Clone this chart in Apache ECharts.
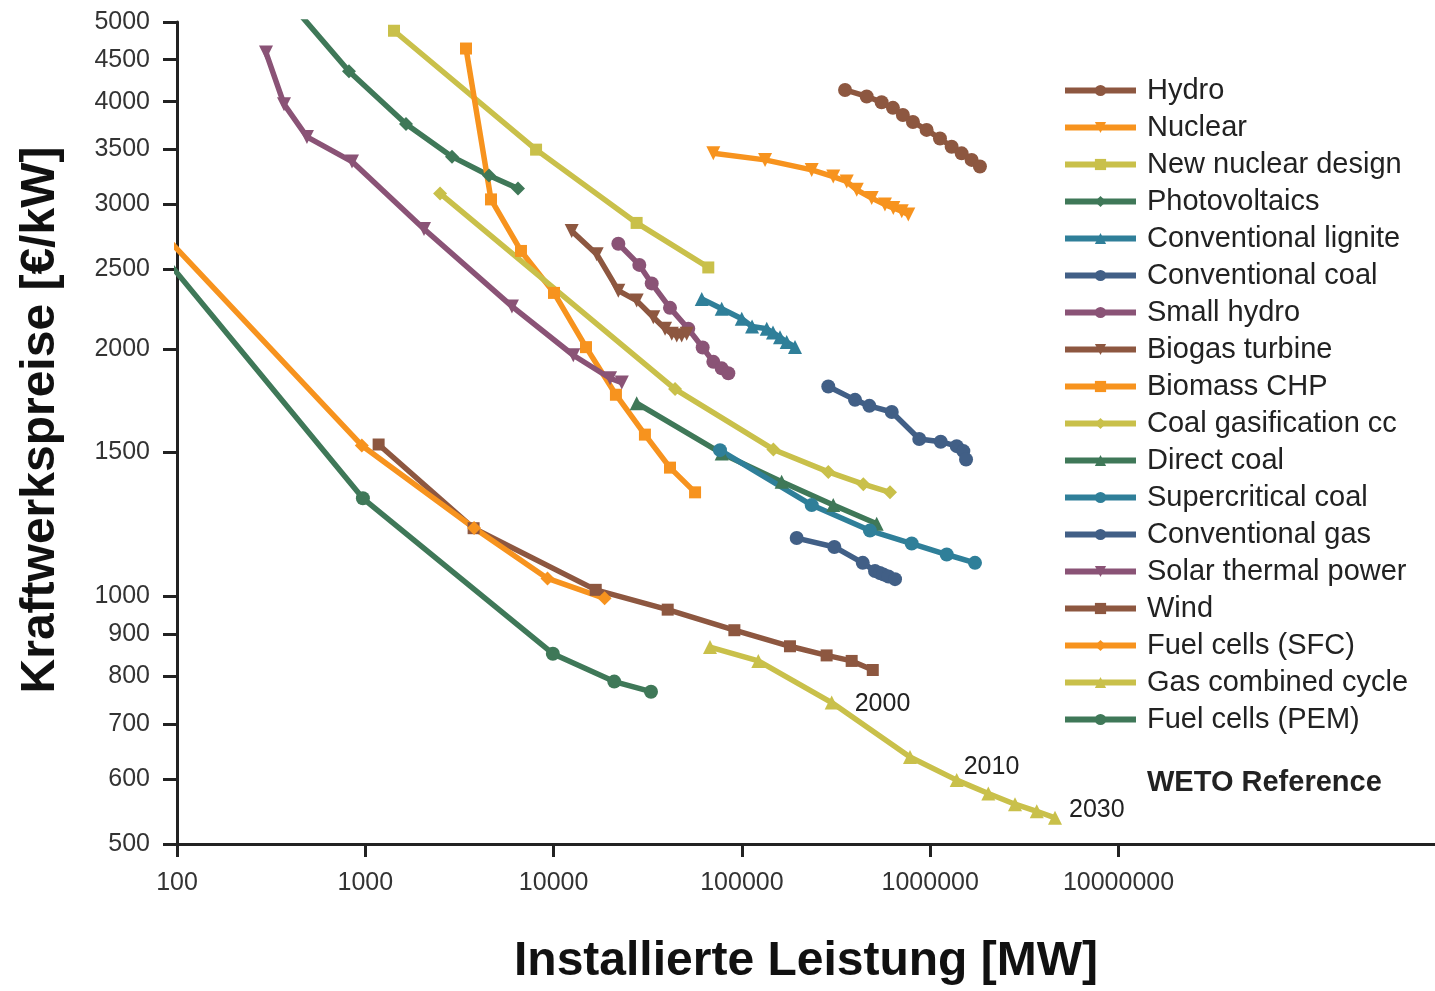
<!DOCTYPE html>
<html>
<head>
<meta charset="utf-8">
<title>Kraftwerkspreise</title>
<script src="https://cdn.jsdelivr.net/npm/echarts@6/dist/echarts.min.js"></script>
<style>
  html, body { margin: 0; padding: 0; background: #fff; }
  #chart { width: 1435px; height: 991px; }
</style>
</head>
<body>
<div id="chart"></div>
<script>
// [installierte Leistung MW, Preis €/kW]
const hydro = [[353000, 4133], [460000, 4059], [552000, 3994], [634000, 3931], [716000, 3853], [810000, 3779],
  [957000, 3696], [1127000, 3608], [1300000, 3526], [1469000, 3461], [1660000, 3398], [1837000, 3335]]
const nuclear = [[70500, 3461], [132700, 3398], [234800, 3304], [305700, 3243], [360300, 3198], [407400, 3125],
  [489000, 3053], [575000, 2998], [637000, 2970], [706000, 2943], [765000, 2916]]
const newNuclear = [[1420, 4879], [8070, 3497], [27600, 2848], [66300, 2514]]
const photovoltaics = [[421, 5200], [819, 4355], [1645, 3757], [2887, 3429], [4540, 3253], [6470, 3136]]
const lignite = [[61200, 2302], [78100, 2239], [99800, 2177], [113200, 2131], [135500, 2117], [146300, 2095],
  [159300, 2068], [172900, 2040], [191400, 2012]]
const convCoal = [[287600, 1801], [398900, 1735], [475400, 1706], [625000, 1677], [875000, 1555],
  [1137000, 1543], [1383000, 1524], [1500000, 1503], [1550000, 1468]]
const smallHydro = [[22070, 2687], [28520, 2532], [33190, 2404], [41500, 2245], [51900, 2117], [61900, 2009],
  [70500, 1930], [78100, 1895], [84700, 1869]]
const biogas = [[12480, 2784], [16940, 2609], [22070, 2356], [27620, 2291], [33860, 2187], [39080, 2117],
  [42400, 2088], [45070, 2078], [47900, 2078], [50900, 2088]]
const biomass = [[3427, 4642], [4650, 3042], [6710, 2633], [10050, 2341], [14860, 2011], [21430, 1760],
  [30550, 1574], [41500, 1435], [56400, 1339]]
const coalGasification = [[2494, 3093], [44150, 1788], [146900, 1510], [287600, 1418], [441500, 1370], [611800, 1339]]
const directCoal = [[27620, 1719], [78100, 1493], [162600, 1379], [305700, 1292], [519800, 1226]]
const supercritical = [[76500, 1507], [234800, 1292], [478600, 1203], [797500, 1160], [1224000, 1125], [1729000, 1099]]
const convGas = [[195400, 1178], [309700, 1149], [438300, 1099], [509300, 1074], [540000, 1068],
  [563700, 1064], [600000, 1058], [650500, 1050]]
const solarThermal = [[297, 4590], [370, 3972], [490, 3624], [850, 3382], [2050, 2800], [6010, 2254],
  [12730, 1966], [19950, 1843], [23020, 1821]]
const wind = [[1177, 1531], [3760, 1211], [16740, 1019], [40360, 964], [91200, 910], [180000, 870],
  [281800, 848], [382800, 835], [495500, 814]]
const fuelCellsSFC = [[80, 2796], [958, 1527], [3780, 1212], [9280, 1052], [18660, 995]]
const gasCombined = [[67700, 868], [122200, 835], [299800, 743], [781000, 638], [1383000, 598],
  [2036000, 576], [2820000, 559], [3680000, 548], [4600000, 538]]
const gasYears = ['', '', '2000', '', '2010', '', '', '', '2030']
const fuelCellsPEM = [[80, 2634], [971, 1317], [9910, 852], [21000, 788], [32900, 766]]

const xTicks = [100, 1000, 10000, 100000, 1000000, 10000000]
const yTicks = [500, 600, 700, 800, 900, 1000, 1500, 2000, 2500, 3000, 3500, 4000, 4500, 5000]

const FONT = 'Liberation Sans, Arial, sans-serif'
const BROWN = '#8d5740'
const ORANGE = '#f7931e'
const YELLOW = '#c9c04a'
const GREEN = '#3f7858'
const TEAL = '#2f7f99'
const BLUE = '#415f86'
const PURPLE = '#8a5376'

const seriesDefs = [
  { name: 'Hydro', data: hydro, color: BROWN, symbol: 'circle' },
  { name: 'Nuclear', data: nuclear, color: ORANGE, symbol: 'triangle', rotate: 180 },
  { name: 'New nuclear design', data: newNuclear, color: YELLOW, symbol: 'rect' },
  { name: 'Photovoltaics', data: photovoltaics, color: GREEN, symbol: 'diamond' },
  { name: 'Conventional lignite', data: lignite, color: TEAL, symbol: 'triangle' },
  { name: 'Conventional coal', data: convCoal, color: BLUE, symbol: 'circle' },
  { name: 'Small hydro', data: smallHydro, color: PURPLE, symbol: 'circle' },
  { name: 'Biogas turbine', data: biogas, color: BROWN, symbol: 'triangle', rotate: 180 },
  { name: 'Biomass CHP', data: biomass, color: ORANGE, symbol: 'rect' },
  { name: 'Coal gasification cc', data: coalGasification, color: YELLOW, symbol: 'diamond' },
  { name: 'Direct coal', data: directCoal, color: GREEN, symbol: 'triangle' },
  { name: 'Supercritical coal', data: supercritical, color: TEAL, symbol: 'circle' },
  { name: 'Conventional gas', data: convGas, color: BLUE, symbol: 'circle' },
  { name: 'Solar thermal power', data: solarThermal, color: PURPLE, symbol: 'triangle', rotate: 180 },
  { name: 'Wind', data: wind, color: BROWN, symbol: 'rect' },
  { name: 'Fuel cells (SFC)', data: fuelCellsSFC, color: ORANGE, symbol: 'diamond' },
  { name: 'Gas combined cycle', data: gasCombined, color: YELLOW, symbol: 'triangle', years: gasYears },
  { name: 'Fuel cells (PEM)', data: fuelCellsPEM, color: GREEN, symbol: 'circle' }
]

// Jahreszahlen neben einzelnen Punkten
const yearLabelPos = {
  '2000': { distance: 16, offset: [0, 2] },
  '2010': { distance: 0, offset: [0, -13] },
  '2030': { distance: 7, offset: [0, -8] }
}

const toLog = ([x, y]) => [Math.log10(x), Math.log10(y)]

const series = seriesDefs.map((def) => {
  const data = def.data.map((p, i) => {
    const year = def.years && def.years[i]
    if (!year) return toLog(p)
    return {
      value: toLog(p),
      label: {
        show: true,
        position: 'right',
        distance: yearLabelPos[year].distance,
        offset: yearLabelPos[year].offset,
        formatter: year,
        fontFamily: FONT,
        fontSize: 25,
        color: '#222'
      }
    }
  })
  return {
    name: def.name,
    type: 'line',
    data: data,
    symbol: def.symbol,
    symbolSize: def.symbol === 'rect' ? 12 : 14,
    symbolRotate: def.rotate || 0,
    showAllSymbol: true,
    clip: true,
    lineStyle: { width: 5.5, color: def.color },
    itemStyle: { color: def.color },
    emphasis: { disabled: true }
  }
})

const chart = echarts.init(document.getElementById('chart'))
chart.setOption({
  animation: false,
  backgroundColor: '#fff',
  textStyle: { fontFamily: FONT },
  grid: { left: 177, right: 0, top: 22, bottom: 143 },
  legend: {
    orient: 'vertical',
    left: 1062,
    top: 76,
    padding: 0,
    itemWidth: 71,
    itemHeight: 14,
    itemGap: 8,
    lineStyle: { width: 6 },
    textStyle: { fontFamily: FONT, fontSize: 29, color: '#222', lineHeight: 29, padding: [0, 0, 0, 6] },
    data: seriesDefs.map(d => d.name)
  },
  graphic: [{
    type: 'text',
    left: 1147,
    top: 768,
    style: { text: 'WETO Reference', font: 'bold 29px ' + FONT, fill: '#222' }
  }],
  xAxis: {
    type: 'value',
    min: 2,
    max: 2 + 1258 / 188.3,
    name: 'Installierte Leistung [MW]',
    nameLocation: 'middle',
    nameGap: 94,
    nameTextStyle: { fontFamily: FONT, fontSize: 48, fontWeight: 'bold', color: '#111' },
    axisLine: { lineStyle: { color: '#222', width: 3 } },
    axisTick: { show: true, length: 13, lineStyle: { color: '#222', width: 3 }, customValues: xTicks.map(Math.log10) },
    axisLabel: {
      customValues: xTicks.map(Math.log10),
      formatter: v => String(Math.round(Math.pow(10, v))),
      margin: 27,
      fontFamily: FONT,
      fontSize: 25,
      color: '#333'
    },
    splitLine: { show: false }
  },
  yAxis: {
    type: 'value',
    min: Math.log10(500),
    max: Math.log10(5000),
    name: 'Kraftwerkspreise [€/kW]',
    nameLocation: 'middle',
    nameRotate: 90,
    nameGap: 112,
    nameTextStyle: { fontFamily: FONT, fontSize: 48, fontWeight: 'bold', color: '#111', padding: [0, 0, 0, 26] },
    axisLine: { lineStyle: { color: '#222', width: 3 } },
    axisTick: { show: true, length: 14, lineStyle: { color: '#222', width: 3 }, customValues: yTicks.map(Math.log10) },
    axisLabel: {
      customValues: yTicks.map(Math.log10),
      formatter: v => String(Math.round(Math.pow(10, v))),
      margin: 27,
      fontFamily: FONT,
      fontSize: 25,
      color: '#333'
    },
    splitLine: { show: false }
  },
  series: series
})
</script>
</body>
</html>
